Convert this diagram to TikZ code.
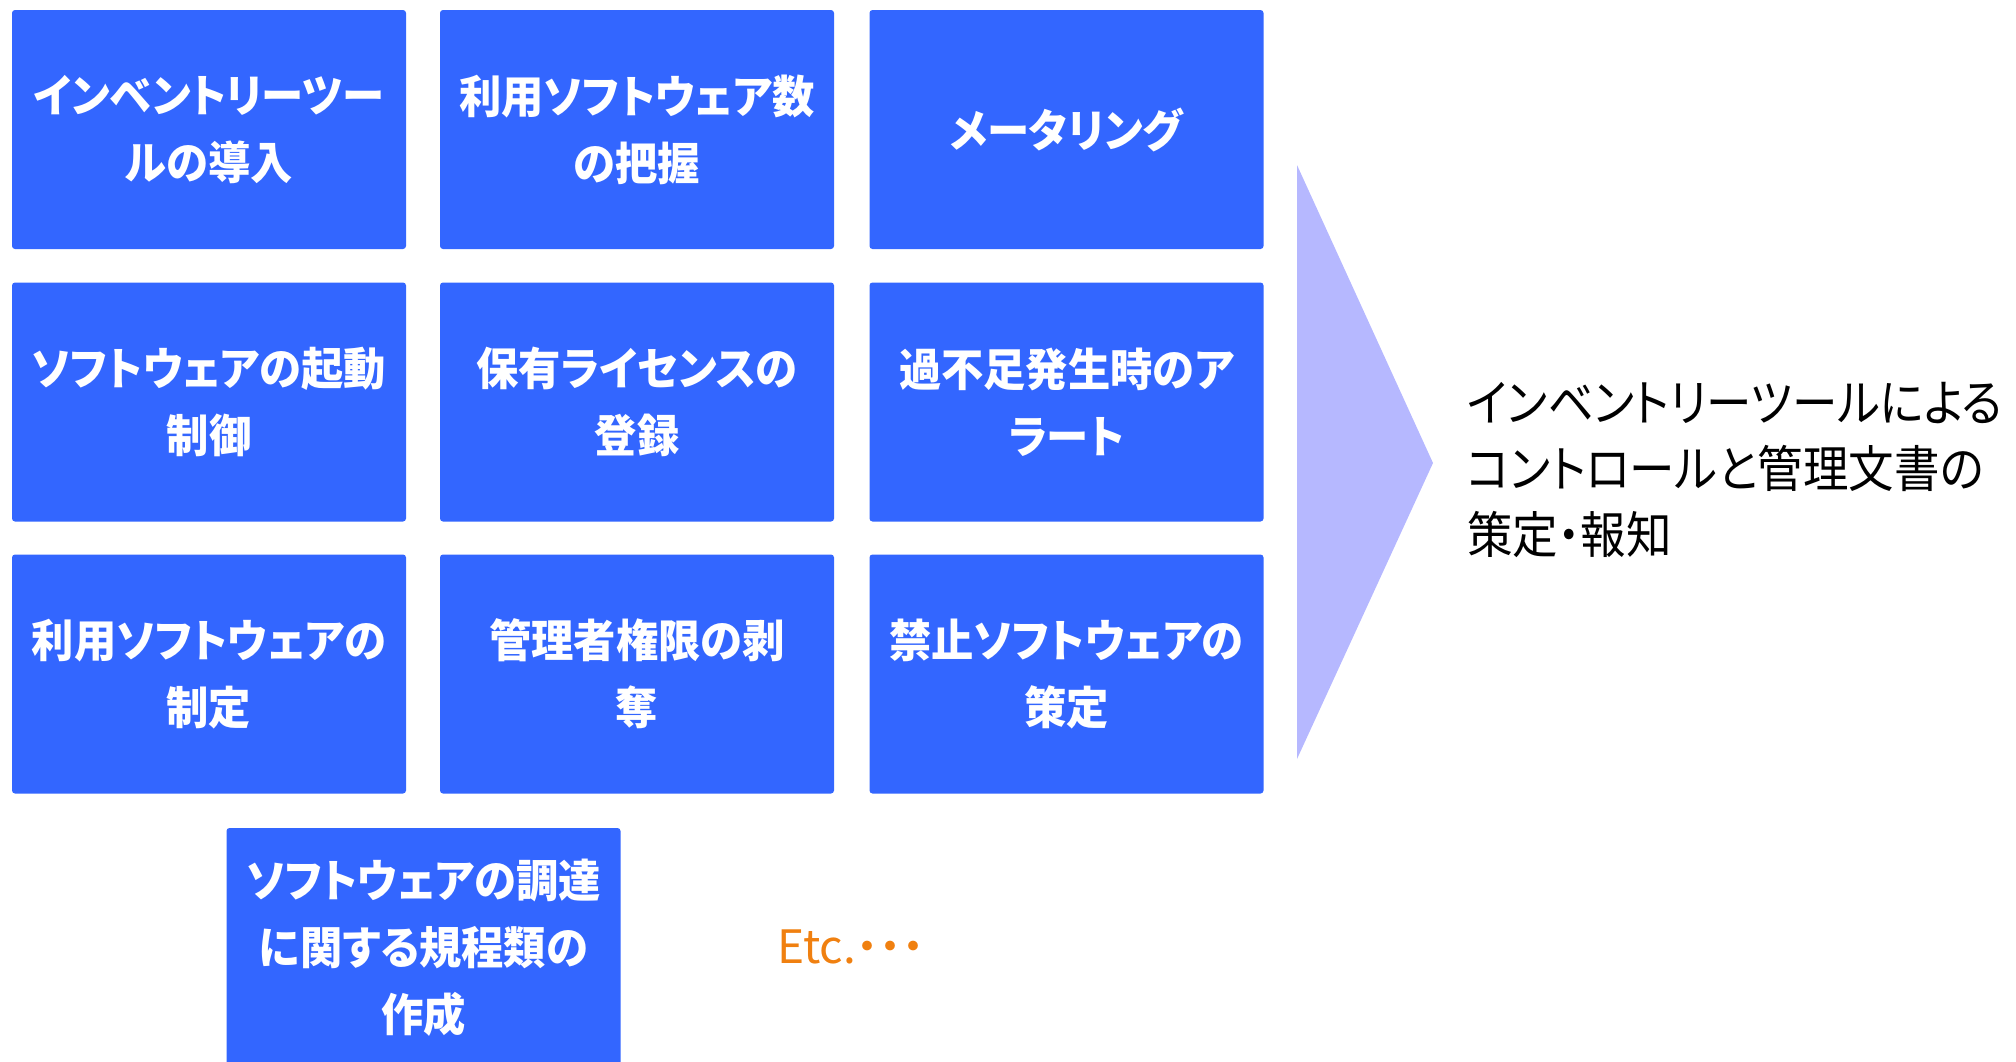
\documentclass[tikz,border=0pt]{standalone}
\usepackage{fontspec}
\newfontfamily\jp[RawFeature=+palt]{Noto Sans CJK JP}
\newfontfamily\jpn[RawFeature=+palt,FakeStretch=0.94]{Noto Sans CJK JP}
\newfontfamily\jpr[RawFeature=+palt,FakeStretch=0.91]{Noto Sans CJK JP}
\definecolor{boxblue}{RGB}{51,102,255}
\definecolor{chev}{RGB}{182,184,255}
\definecolor{etcorange}{RGB}{240,128,16}
\begin{document}
\begin{tikzpicture}[x=1pt,y=-1pt,
  box/.style={fill=boxblue, rounded corners=3pt, minimum width=394pt, minimum height=239pt,
    text=white, font=\jpn\bfseries\fontsize{45}{67}\selectfont, align=center, inner sep=0pt}]
\useasboundingbox (0,0) rectangle (2016,1061);
\clip (0,0) rectangle (2016,1061);
% row 1
\node[box] (b11) at (209,129.5) {インベントリーツー\\ルの導入};
\node[box] (b12) at (637,129.5) {利用ソフトウェア数\\の把握};
\node[box] (b13) at (1066.5,129.5) {メータリング};
% row 2
\node[box] (b21) at (209,402) {ソフトウェアの起動\\制御};
\node[box] (b22) at (637,402) {保有ライセンスの\\登録};
\node[box] (b23) at (1066.5,402) {過不足発生時のア\\ラート};
% row 3
\node[box] (b31) at (209,674) {利用ソフトウェアの\\制定};
\node[box] (b32) at (637,674) {管理者権限の剥\\奪};
\node[box] (b33) at (1066.5,674) {禁止ソフトウェアの\\策定};
% bottom
\node[box] (b41) at (423.5,947.5) {ソフトウェアの調達\\に関する規程類の\\作成};
% etc
\node[text=etcorange, font=\jp\fontsize{46}{52}\selectfont, inner sep=0pt] (etc) at (851,947) {Etc.・・・};
% chevron
\coordinate (ct) at (1297,165);
\coordinate (ca) at (1433,463);
\coordinate (cb) at (1297,759);
\fill[chev] (ct) -- (ca) -- (cb) -- cycle;
% result text
\node[anchor=west, align=left, inner sep=0pt, font=\jpr\fontsize{50}{66}\selectfont] (res) at (1467,470)
  {インベントリーツールによる\\コントロールと管理文書の\\策定・報知};
\end{tikzpicture}
\end{document}
